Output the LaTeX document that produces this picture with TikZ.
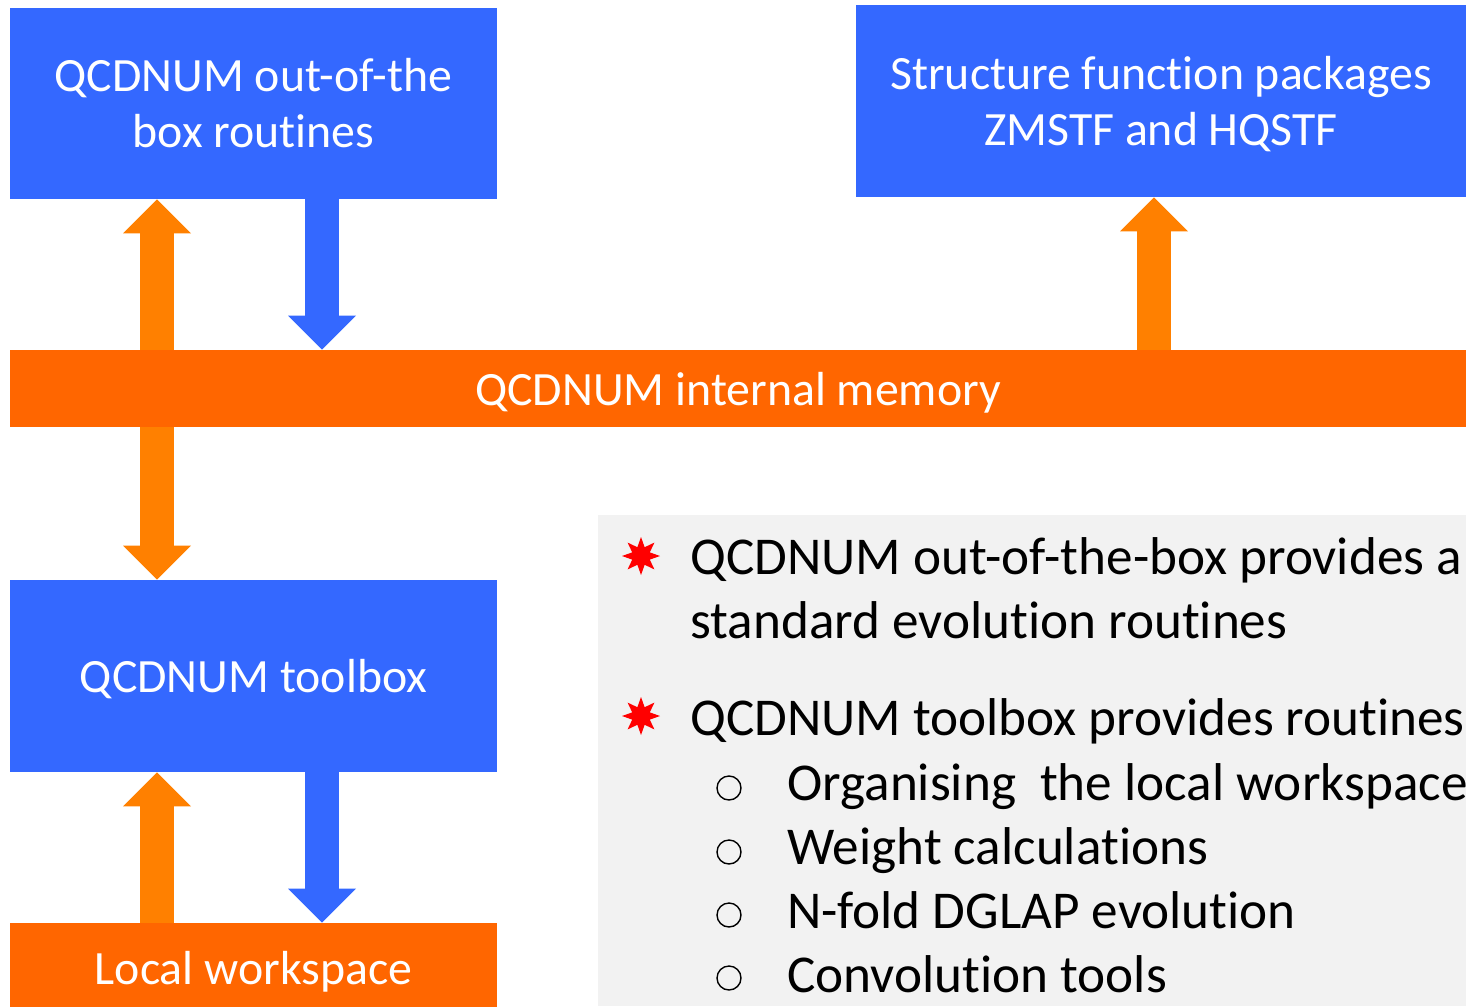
\documentclass[tikz,border=0pt]{standalone}
\usepackage{fontspec}
\setmainfont{Carlito}[Ligatures=NoCommon]
\usetikzlibrary{arrows.meta,shapes.geometric}
\definecolor{boxblue}{RGB}{52,104,255}
\definecolor{memorange}{RGB}{255,102,0}
\definecolor{flowA}{RGB}{255,128,0}
\definecolor{panelgrey}{RGB}{242,242,242}
\begin{document}
\begin{tikzpicture}[x=0.5pt,y=-0.5pt]
\tikzstyle{every node}+=[inner sep=0pt]
\tikzstyle{bluebox}=[fill=boxblue, text=white, align=center, font=\fontsize{23.9}{28}\selectfont]
\tikzstyle{orangebox}=[fill=memorange, text=white, align=center, text depth=0pt, font=\fontsize{23.9}{28}\selectfont]
\tikzstyle{notetext}=[anchor=base west, font=\fontsize{26.6}{32}\selectfont]
\tikzstyle{upflow}=[line width=17pt, color=flowA, -{Triangle[line width=0pt,width=34pt,length=17pt]}]
\tikzstyle{downflow}=[line width=17pt, color=boxblue, -{Triangle[line width=0pt,width=34pt,length=17pt]}]
\useasboundingbox (0,0) rectangle (1466,1006);
\fill [panelgrey] (598,515) rectangle (1466,1006);
\node [bluebox, minimum width=243.5pt, minimum height=95.5pt] (outbox) at (253.5,103.5) {QCDNUM out-of-the\\box routines};
\node [bluebox, text depth=0pt, minimum width=305pt, minimum height=96pt] (sfbox) at (1161,101) {Structure function packages\\ZMSTF and HQSTF};
\node [orangebox, minimum width=728pt, minimum height=38.5pt] (mem) at (738,388.5) {QCDNUM internal memory};
\node [bluebox, text depth=0pt, minimum width=243.5pt, minimum height=96pt] (toolbox) at (253.5,676) {QCDNUM toolbox};
\node [orangebox, minimum width=243.5pt, minimum height=45pt] (workspace) at (253.5,968) {Local workspace};
\coordinate (lcol) at (157,0);
\coordinate (rcol) at (322,0);
\coordinate (scol) at (1154,0);
\draw [upflow] (lcol |- mem.north) -- (lcol |- outbox.south);
\draw [downflow] (rcol |- outbox.south) -- (rcol |- mem.north);
\draw [upflow] (scol |- mem.north) -- (scol |- sfbox.south);
\draw [upflow] (lcol |- mem.south) -- (lcol |- toolbox.north);
\draw [upflow] (lcol |- workspace.north) -- (lcol |- toolbox.south);
\draw [downflow] (rcol |- toolbox.south) -- (rcol |- workspace.north);
\node [star, star points=8, star point ratio=2, fill=red, minimum size=19pt] (star1) at (641,556) {};
\node [star, star points=8, star point ratio=2, fill=red, minimum size=19pt] (star2) at (641,716) {};
\node [notetext] (note1a) at (690,574) {QCDNUM out-of-the-box provides a};
\node [notetext] (note1b) at (690,638) {standard evolution routines};
\node [notetext] (note2) at (690,735) {QCDNUM toolbox provides routines};
\draw [line width=0.7pt] (729,788) circle (6pt);
\node [notetext] (item1) at (787,800) {Organising~ the local workspace};
\draw [line width=0.7pt] (729,852) circle (6pt);
\node [notetext] (item2) at (787,864) {Weight calculations};
\draw [line width=0.7pt] (729,915) circle (6pt);
\node [notetext] (item3) at (787,928) {N-fold DGLAP evolution};
\draw [line width=0.7pt] (729,978) circle (6pt);
\node [notetext] (item4) at (787,992) {Convolution tools};
\end{tikzpicture}
\end{document}
